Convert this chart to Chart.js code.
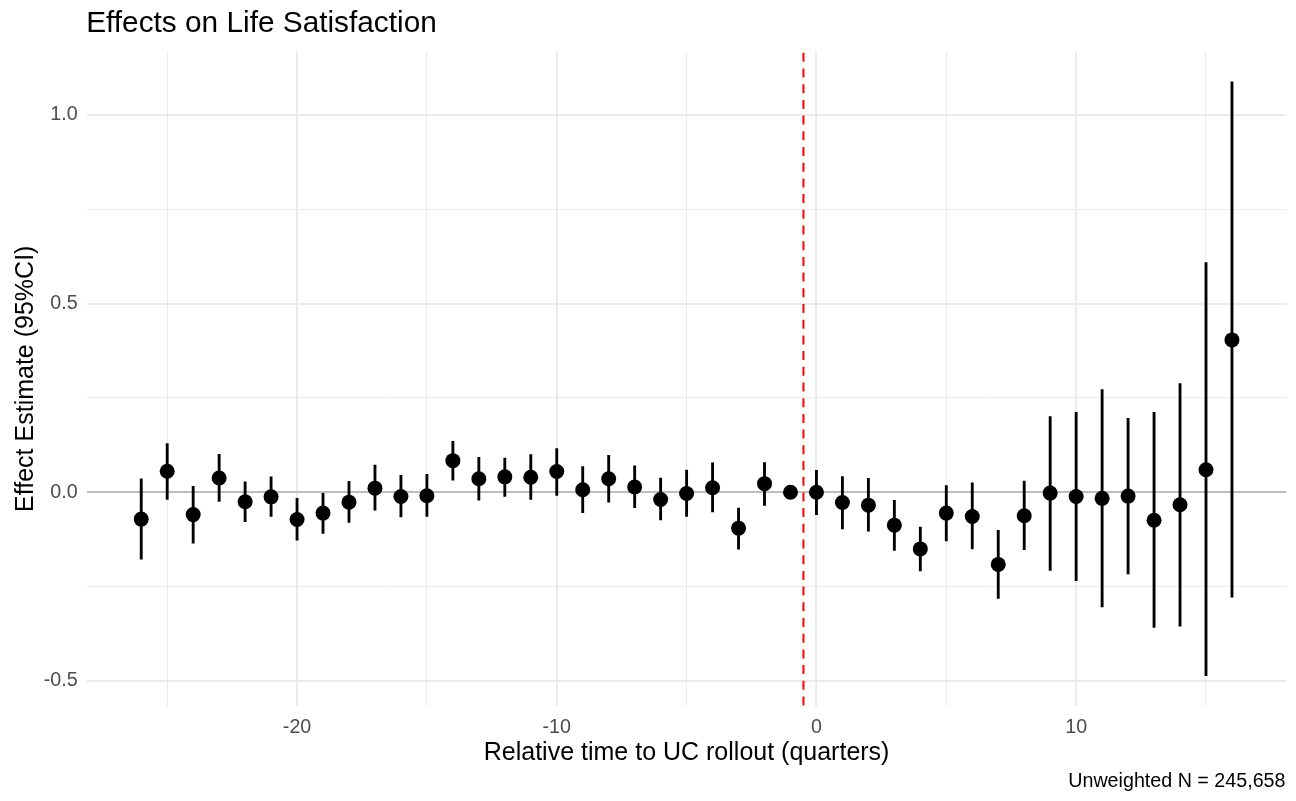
<!DOCTYPE html>
<html>
<head>
<meta charset="utf-8">
<script src="https://cdn.jsdelivr.net/npm/chart.js@4/dist/chart.umd.min.js"></script>
<style>
  html, body { margin: 0; padding: 0; background: #ffffff; }
  #wrap { width: 1296px; height: 801px; position: relative; }
</style>
</head>
<body>
<div id="wrap"><canvas id="c"></canvas></div>
<script>
// ---- data ----
const quarters  = [-26, -25, -24, -23, -22, -21, -20, -19, -18, -17, -16, -15, -14, -13, -12, -11, -10, -9, -8, -7, -6, -5, -4, -3, -2, -1, 0, 1, 2, 3, 4, 5, 6, 7, 8, 9, 10, 11, 12, 13, 14, 15, 16];
const estimates = [-0.071, 0.056, -0.059, 0.038, -0.025, -0.012, -0.072, -0.055, -0.026, 0.011, -0.011, -0.009, 0.084, 0.036, 0.041, 0.040, 0.055, 0.007, 0.036, 0.014, -0.019, -0.003, 0.012, -0.095, 0.023, 0.000, 0.000, -0.027, -0.034, -0.087, -0.150, -0.055, -0.064, -0.191, -0.062, -0.002, -0.011, -0.016, -0.010, -0.074, -0.033, 0.060, 0.404];
const lowerCI   = [-0.177, -0.019, -0.135, -0.024, -0.078, -0.064, -0.127, -0.109, -0.080, -0.047, -0.065, -0.064, 0.032, -0.021, -0.011, -0.019, -0.008, -0.054, -0.026, -0.041, -0.073, -0.064, -0.052, -0.151, -0.035, null, -0.059, -0.097, -0.103, -0.154, -0.208, -0.129, -0.150, -0.281, -0.152, -0.207, -0.234, -0.304, -0.216, -0.358, -0.355, -0.486, -0.278];
const upperCI   = [0.036, 0.129, 0.016, 0.101, 0.028, 0.041, -0.016, 0.000, 0.029, 0.072, 0.045, 0.048, 0.135, 0.093, 0.091, 0.100, 0.116, 0.068, 0.098, 0.070, 0.038, 0.059, 0.078, -0.042, 0.079, null, 0.058, 0.042, 0.037, -0.021, -0.092, 0.018, 0.025, -0.101, 0.030, 0.201, 0.212, 0.272, 0.196, 0.212, 0.288, 0.609, 1.088];
const xTickLabels = ['-20', '-10', '0', '10'];
const yTickLabels = ['1.0', '0.5', '0.0', '-0.5'];
const rolloutLine = -0.5;
const xLimits = [-28.1, 18.1];
const yLimits = [-0.565, 1.167];
const titleText   = 'Effects on Life Satisfaction';
const xTitleText  = 'Relative time to UC rollout (quarters)';
const yTitleText  = 'Effect Estimate (95%CI)';
const captionText = 'Unweighted N = 245,658';

// ---- build datasets ----
const FONT = "'Liberation Sans', Arial, Helvetica, sans-serif";
const pointData = quarters.map((q, i) => ({ x: q, y: estimates[i] }));
const ciData = [];
quarters.forEach((q, i) => {
  if (lowerCI[i] !== null && upperCI[i] !== null) ciData.push({ x: q, y: [lowerCI[i], upperCI[i]] });
});

const isMult = (v, m) => Math.abs(v / m - Math.round(v / m)) < 1e-9;

const annotations = {
  id: 'annotations',
  afterDatasetsDraw(chart) {
    const { ctx, chartArea, scales } = chart;
    const px = scales.x.getPixelForValue(rolloutLine);
    ctx.save();
    ctx.strokeStyle = '#ff0000';
    ctx.lineWidth = 2;
    ctx.setLineDash([9, 6.7]);
    ctx.beginPath();
    ctx.moveTo(px, chartArea.bottom);
    ctx.lineTo(px, chartArea.top);
    ctx.stroke();
    ctx.restore();
  },
  afterDraw(chart) {
    const { ctx, chartArea } = chart;
    ctx.save();
    ctx.fillStyle = '#000000';
    ctx.textBaseline = 'alphabetic';
    ctx.font = '29.8px ' + FONT;
    ctx.textAlign = 'left';
    ctx.fillText(titleText, chartArea.left - 0.5, 32);
    ctx.font = '19.7px ' + FONT;
    ctx.textAlign = 'right';
    ctx.fillText(captionText, chartArea.right - 1, 786.5);
    ctx.restore();
  }
};

new Chart(document.getElementById('c'), {
  type: 'scatter',
  data: {
    datasets: [
      {
        type: 'bar',
        data: ciData,
        backgroundColor: '#000000',
        borderWidth: 0,
        barThickness: 2.2,
        order: 2
      },
      {
        type: 'scatter',
        data: pointData,
        backgroundColor: '#000000',
        borderColor: '#000000',
        pointRadius: 7.5,
        pointHoverRadius: 7.5,
        borderWidth: 0,
        order: 1
      }
    ]
  },
  options: {
    responsive: true,
    maintainAspectRatio: false,
    animation: false,
    events: [],
    layout: { padding: { top: 52, right: 9.5, bottom: 0, left: 0 } },
    plugins: {
      legend: { display: false },
      tooltip: { enabled: false },
      title: { display: false }
    },
    scales: {
      x: {
        type: 'linear',
        position: 'bottom',
        offset: false,
        min: xLimits[0],
        max: xLimits[1],
        afterFit(scale) { scale.height = 95.5; },
        border: { display: false },
        grid: {
          offset: false,
          drawTicks: false,
          color: '#ebebeb',
          lineWidth: (c) => (c.tick && isMult(c.tick.value, 10)) ? 2 : 1
        },
        ticks: {
          stepSize: 5,
          includeBounds: false,
          autoSkip: false,
          maxRotation: 0,
          padding: 10,
          color: '#4d4d4d',
          font: { family: FONT, size: 19.7 },
          callback: (v) => xTickLabels.includes(String(v)) ? String(v) : ''
        },
        title: {
          display: true,
          text: xTitleText,
          color: '#000000',
          font: { family: FONT, size: 25 },
          padding: { top: 0, bottom: 33 }
        }
      },
      y: {
        type: 'linear',
        position: 'left',
        min: yLimits[0],
        max: yLimits[1],
        afterFit(scale) { scale.width = 86.7; },
        border: { display: false },
        grid: {
          drawTicks: false,
          color: (c) => (c.tick && Math.abs(c.tick.value) < 1e-9) ? '#bdbdbd' : '#ebebeb',
          lineWidth: (c) => {
            if (!c.tick) return 1;
            if (Math.abs(c.tick.value) < 1e-9) return 2;
            return isMult(c.tick.value, 0.5) ? 2 : 1;
          }
        },
        ticks: {
          stepSize: 0.25,
          includeBounds: false,
          autoSkip: false,
          padding: 9,
          color: '#4d4d4d',
          font: { family: FONT, size: 19.7 },
          callback: (v) => {
            const s = Number(v).toFixed(1);
            return (isMult(v, 0.5) && yTickLabels.includes(s)) ? s : '';
          }
        },
        title: {
          display: true,
          text: yTitleText,
          color: '#000000',
          font: { family: FONT, size: 25 },
          padding: { top: 11, bottom: 0 }
        }
      }
    }
  },
  plugins: [annotations]
});
</script>
</body>
</html>
